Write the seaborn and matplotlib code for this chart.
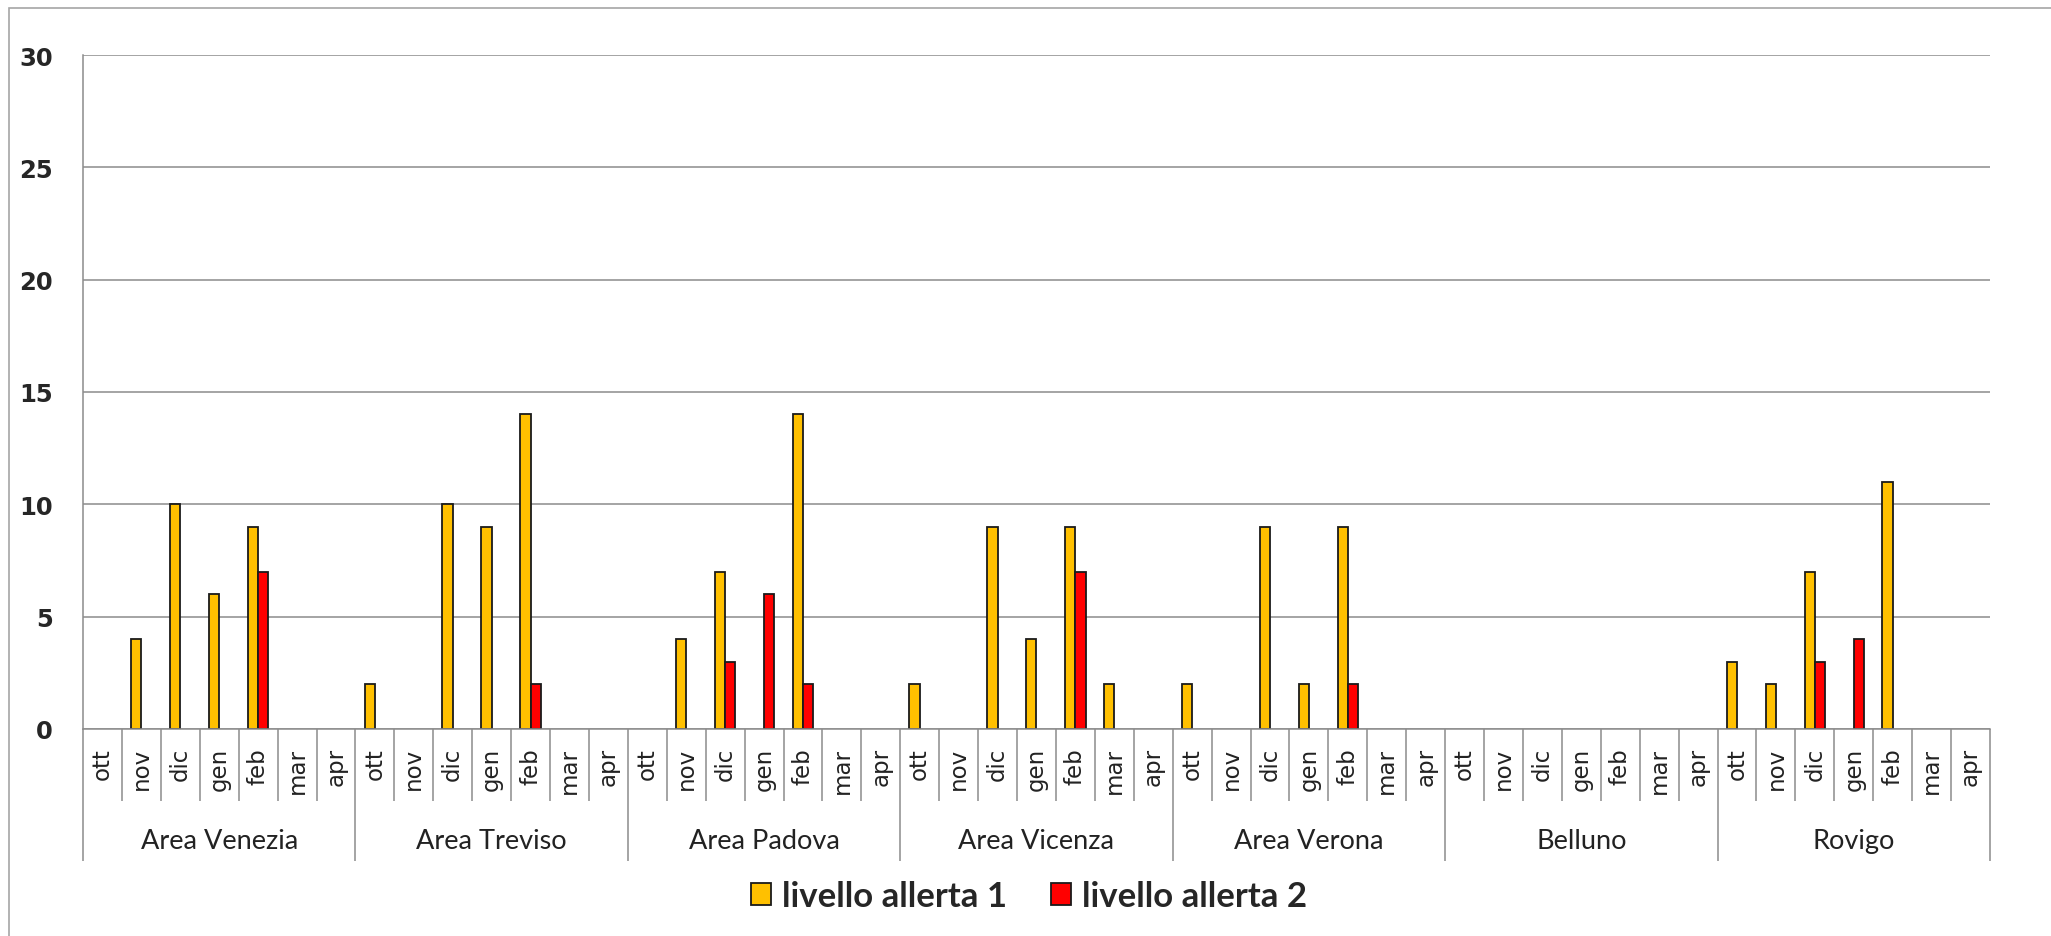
import matplotlib
matplotlib.use('Agg')
import matplotlib.pyplot as plt
import pandas as pd
import seaborn as sns
from matplotlib.patches import Patch, Rectangle
from matplotlib.transforms import blended_transform_factory

# ======== dati ========
aree = ['Area Venezia', 'Area Treviso', 'Area Padova', 'Area Vicenza',
        'Area Verona', 'Belluno', 'Rovigo']
mesi = ['ott', 'nov', 'dic', 'gen', 'feb', 'mar', 'apr']
livelli = ['livello allerta 1', 'livello allerta 2']
colori = ['#FFC000', '#FF0000']

# giorni di allerta per area e mese (ott -> apr)
allerta_1 = [
    [0, 4, 10, 6, 9, 0, 0],    # Venezia
    [2, 0, 10, 9, 14, 0, 0],   # Treviso
    [0, 4, 7, 0, 14, 0, 0],    # Padova
    [2, 0, 9, 4, 9, 2, 0],     # Vicenza
    [2, 0, 9, 2, 9, 0, 0],     # Verona
    [0, 0, 0, 0, 0, 0, 0],     # Belluno
    [3, 2, 7, 0, 11, 0, 0],    # Rovigo
]
allerta_2 = [
    [0, 0, 0, 0, 7, 0, 0],
    [0, 0, 0, 0, 2, 0, 0],
    [0, 0, 3, 6, 2, 0, 0],
    [0, 0, 0, 0, 7, 0, 0],
    [0, 0, 0, 0, 2, 0, 0],
    [0, 0, 0, 0, 0, 0, 0],
    [0, 0, 3, 4, 0, 0, 0],
]

# ======== tabella lunga ========
righe = []
for a, area in enumerate(aree):
    for m, mese in enumerate(mesi):
        chiave = f'{area}|{mese}'
        righe.append((chiave, livelli[0], allerta_1[a][m]))
        righe.append((chiave, livelli[1], allerta_2[a][m]))
df = pd.DataFrame(righe, columns=['chiave', 'livello', 'giorni'])
ordine = [f'{a}|{m}' for a in aree for m in mesi]
n = len(ordine)

# ======== figura ========
W, H = 2051, 937
sns.set_style('white')
plt.rcParams['font.family'] = ['DejaVu Sans']

fig = plt.figure(figsize=(W / 100, H / 100), dpi=100)
ax = fig.add_axes([83 / W, 1 - 730 / H, (1990 - 83) / W, (730 - 56) / H])

sns.barplot(data=df, x='chiave', y='giorni', hue='livello', order=ordine,
            hue_order=livelli, palette=colori, saturation=1, width=0.53, gap=0,
            errorbar=None, edgecolor='#1a1a1a', linewidth=1.3,
            legend=False, ax=ax)

# barre a zero non disegnate (come in Excel)
for p in ax.patches:
    if p.get_height() == 0:
        p.set_visible(False)

grigio = '#8c8c8c'
ax.set_xlim(-0.5, n - 0.5)
ax.set_ylim(0, 30)
ax.set_yticks(range(0, 31, 5))
ax.yaxis.grid(True, color=grigio, linewidth=1.1)
ax.set_axisbelow(True)
for s in ['top', 'right']:
    ax.spines[s].set_visible(False)
for s in ['left', 'bottom']:
    ax.spines[s].set_color(grigio)
    ax.spines[s].set_linewidth(1.1)
ax.set_xlabel('')
ax.set_ylabel('')

ax.tick_params(axis='y', direction='out', length=7.2, width=1.1, color=grigio,
               pad=14.4, labelsize=17.5)
for t in ax.get_yticklabels():
    t.set_fontweight('bold')

ax.set_xticks(range(n), [m for _ in aree for m in mesi], rotation=90)
ax.tick_params(axis='x', length=0, pad=13, labelsize=16.5, labelcolor='#222222')

# separatori dell'asse a due livelli
trans = blended_transform_factory(ax.transData, ax.transAxes)
gruppi = [i * len(mesi) - 0.5 for i in range(len(aree) + 1)]
piccoli = [i - 0.5 for i in range(1, n) if i % len(mesi) != 0]
ax.vlines(piccoli, 0, -72 / 674, transform=trans, colors=grigio,
          linewidth=1.1, clip_on=False)
ax.vlines(gruppi, 0, -132 / 674, transform=trans, colors=grigio,
          linewidth=1.1, clip_on=False)
for a, area in enumerate(aree):
    ax.text(a * len(mesi) + (len(mesi) - 1) / 2, -112 / 674, area,
            transform=trans, ha='center', va='center', fontsize=19.5,
            family='Lato', color='#222222')

# legenda
maniglie = [Patch(facecolor=c, edgecolor='#1a1a1a', linewidth=1.3) for c in colori]
fig.legend(maniglie, livelli, loc='center', bbox_to_anchor=(1029 / W, 1 - 897 / H),
           ncol=2, frameon=False, prop={'family': 'Lato', 'weight': 'bold', 'size': 25},
           handlelength=0.58, handleheight=0.58, handletextpad=0.32,
           columnspacing=1.27, borderpad=0, borderaxespad=0)

# bordo dell'area del grafico
fig.add_artist(Rectangle((8.5 / W, -0.2), 1.5, 1.2 - 9 / H, transform=fig.transFigure,
                         fill=False, edgecolor='#a6a6a6', linewidth=1.2))

fig.savefig('out.png', dpi=100)
